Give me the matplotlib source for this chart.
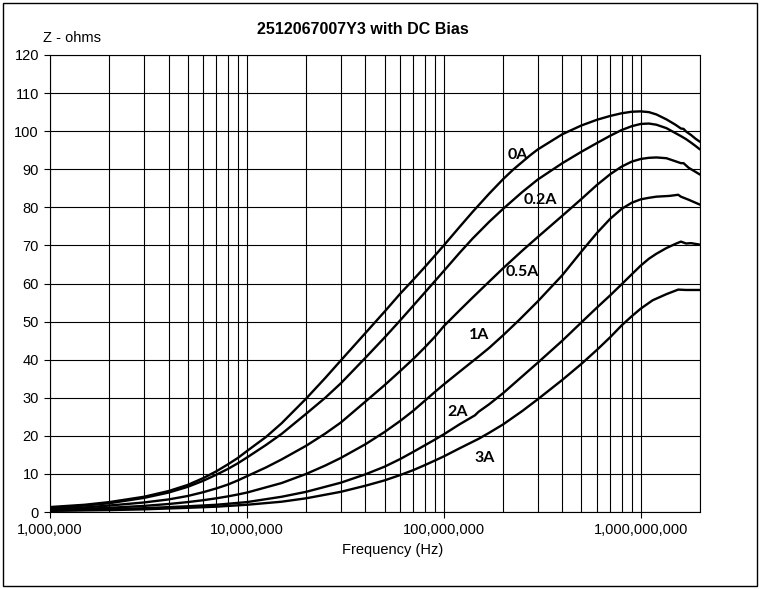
import numpy as np
import matplotlib
matplotlib.use("Agg")
import matplotlib.pyplot as plt
from matplotlib.ticker import FixedLocator, FuncFormatter, NullFormatter
from matplotlib.patches import Rectangle

# readings (frequency in Hz, impedance in ohms)
f_0A = [1e6, 1.5e6, 2e6, 3e6, 4e6, 5e6, 6e6, 7e6, 8e6, 9e6, 1e7, 1.25e7, 1.5e7, 2e7, 2.5e7, 3e7,
        4e7, 5e7, 6e7, 7e7, 8e7, 9e7, 1e8, 1.2e8, 1.4e8, 1.7e8, 2e8, 2.25e8, 2.5e8, 2.75e8, 3e8,
        4e8, 5e8, 6e8, 7e8, 8e8, 9e8, 1e9, 1.1e9, 1.2e9, 1.35e9, 1.5e9, 1.6e9, 1.65e9, 1.7e9,
        1.8e9, 1.9e9, 2e9]
z_0A = [1.3, 1.9, 2.6, 4.0, 5.5, 7.1, 8.9, 10.7, 12.5, 14.2, 16.0, 19.7, 23.3, 29.8, 35.2, 39.8,
        47.0, 52.6, 57.3, 61.0, 64.3, 67.3, 70.0, 74.8, 78.8, 83.6, 87.4, 89.9, 91.9, 93.7, 95.2,
        99.2, 101.5, 103.0, 104.0, 104.7, 105.1, 105.2, 105.0, 104.4, 103.1, 101.7, 100.7, 100.6, 99.9,
        99.0, 98.0, 97.2]

f_02A = [1e6, 1.5e6, 2e6, 3e6, 4e6, 5e6, 6e6, 7e6, 8e6, 9e6, 1e7, 1.25e7, 1.5e7, 2e7, 2.5e7, 3e7,
         4e7, 5e7, 6e7, 7e7, 8e7, 9e7, 1e8, 1.2e8, 1.4e8, 1.7e8, 2e8, 2.5e8, 3e8, 4e8, 5e8, 6e8,
         7e8, 8e8, 9e8, 1e9, 1.1e9, 1.2e9, 1.35e9, 1.5e9, 1.6e9, 1.7e9, 1.8e9, 1.9e9, 2e9]
z_02A = [1.1, 1.7, 2.3, 3.7, 5.1, 6.6, 8.2, 9.8, 11.3, 12.8, 14.3, 17.6, 20.5, 25.8, 30.0, 33.8,
         40.5, 45.8, 50.3, 54.2, 57.6, 60.6, 63.3, 68.0, 71.8, 76.2, 79.6, 84.0, 87.3, 91.6, 94.6, 96.9,
         98.8, 100.3, 101.3, 101.9, 102.0, 101.7, 100.8, 99.5, 98.7, 97.9, 97.0, 96.1, 95.2]

f_05A = [1e6, 1.5e6, 2e6, 3e6, 4e6, 5e6, 6e6, 7e6, 8e6, 9e6, 1e7, 1.25e7, 1.5e7, 2e7, 2.5e7, 3e7,
         4e7, 5e7, 6e7, 7e7, 8e7, 9e7, 1e8, 1.2e8, 1.4e8, 1.7e8, 2e8, 2.5e8, 3e8, 4e8, 5e8, 6e8,
         7e8, 8e8, 9e8, 1e9, 1.1e9, 1.2e9, 1.35e9, 1.5e9, 1.6e9, 1.65e9, 1.75e9, 1.9e9, 2e9]
z_05A = [0.8, 1.2, 1.7, 2.5, 3.3, 4.2, 5.2, 6.2, 7.2, 8.3, 9.4, 11.7, 13.8, 17.4, 20.6, 23.5,
         29.0, 33.3, 37.0, 40.2, 43.2, 46.0, 48.8, 52.9, 56.3, 60.5, 64.0, 68.6, 72.2, 77.8, 82.2, 85.9,
         88.7, 90.7, 92.0, 92.7, 93.0, 93.1, 92.9, 92.1, 91.6, 91.6, 90.4, 89.3, 88.6]

f_1A = [1e6, 1.5e6, 2e6, 3e6, 4e6, 5e6, 6e6, 7e6, 8e6, 9e6, 1e7, 1.5e7, 2e7, 2.5e7, 3e7,
        4e7, 5e7, 6e7, 7e7, 8e7, 9e7, 1e8, 1.2e8, 1.5e8, 1.7e8, 2e8, 2.4e8, 3e8, 3.5e8, 4e8, 5e8, 6e8,
        7e8, 8e8, 9e8, 1e9, 1.1e9, 1.2e9, 1.4e9, 1.55e9, 1.6e9, 1.75e9, 1.9e9, 2e9]
z_1A = [0.6, 0.85, 1.1, 1.6, 2.1, 2.6, 3.1, 3.6, 4.1, 4.6, 5.1, 7.6, 10.0, 12.2, 14.2,
        17.8, 21.0, 23.9, 26.6, 29.2, 31.5, 33.5, 36.8, 40.8, 43.1, 46.4, 50.3, 55.3, 59.0, 62.2, 68.4, 73.3,
        77.0, 79.6, 81.2, 82.1, 82.5, 82.8, 83.0, 83.3, 82.8, 82.0, 81.2, 80.7]

f_2A = [1e6, 2e6, 3e6, 5e6, 7e6, 1e7, 1.5e7, 2e7, 3e7, 4e7, 5e7, 6e7, 7e7, 8e7, 9e7, 1e8, 1.2e8,
        1.44e8, 1.5e8, 1.7e8, 2e8, 2.4e8, 3e8, 4e8, 5e8, 6e8, 7e8, 8e8, 9e8, 1e9, 1.1e9, 1.2e9,
        1.35e9, 1.5e9, 1.6e9, 1.7e9, 1.8e9, 2e9]
z_2A = [0.4, 0.7, 1.0, 1.5, 1.9, 2.6, 4.0, 5.3, 7.7, 9.9, 11.9, 13.9, 15.8, 17.5, 19.0, 20.4, 23.0,
        25.4, 26.3, 28.3, 31.2, 34.8, 39.2, 45.0, 49.8, 53.7, 56.9, 59.8, 62.4, 64.7, 66.5, 67.8,
        69.3, 70.4, 71.0, 70.5, 70.6, 70.2]

f_3A = [1e6, 2e6, 3e6, 5e6, 7e6, 1e7, 1.5e7, 2e7, 3e7, 4e7, 5e7, 6e7, 7e7, 8e7, 9e7, 1e8, 1.2e8,
        1.5e8, 1.7e8, 2e8, 2.5e8, 3e8, 4e8, 5e8, 6e8, 7e8, 8e8, 9e8, 1e9, 1.15e9, 1.35e9, 1.55e9,
        1.7e9, 2e9]
z_3A = [0.3, 0.5, 0.7, 1.1, 1.4, 1.9, 2.7, 3.6, 5.3, 6.9, 8.3, 9.7, 11.0, 12.3, 13.5, 14.6, 16.7,
        19.2, 20.8, 23.0, 26.5, 29.6, 34.7, 38.9, 42.6, 45.9, 49.0, 51.4, 53.4, 55.6, 57.2, 58.4,
        58.3, 58.3]

curve_labels = ["0A", "0.2A", "0.5A", "1A", "2A", "3A"]
label_f = [2.38e8, 3.1e8, 2.49e8, 1.52e8, 1.18e8, 1.62e8]
label_z = [93.7, 81.9, 63.0, 46.5, 26.3, 14.2]

series = [(f_0A, z_0A), (f_02A, z_02A), (f_05A, z_05A), (f_1A, z_1A), (f_2A, z_2A), (f_3A, z_3A)]

fig = plt.figure(figsize=(7.6, 5.89), dpi=100)
ax = fig.add_axes([50 / 760, 1 - 512 / 589, 650 / 760, 457 / 589])

for f, z in series:
    ax.plot(f, z, color="black", lw=1.7, solid_capstyle="round", solid_joinstyle="round")

for lab, lf, lz in zip(curve_labels, label_f, label_z):
    ax.text(lf, lz, lab, ha="center", va="center", fontsize=11.5, fontweight="bold",
            family=["Lato", "DejaVu Sans"])

ax.set_xscale("log")
ax.set_xlim(1e6, 2e9)
ax.set_ylim(0, 120)
ax.set_yticks(np.arange(0, 121, 10))
ax.xaxis.set_major_locator(FixedLocator([1e6, 1e7, 1e8, 1e9]))
ax.xaxis.set_minor_locator(FixedLocator([m * 10 ** e for e in range(6, 10) for m in range(2, 10)
                                         if m * 10 ** e <= 2e9]))
ax.xaxis.set_major_formatter(FuncFormatter(lambda v, p: f"{int(round(v)):,}"))
ax.xaxis.set_minor_formatter(NullFormatter())
ax.grid(True, which="both", color="black", lw=0.8)
ax.tick_params(which="major", length=4, width=0.8, color="black", labelsize=10.5, pad=4)
ax.tick_params(which="minor", length=0)
for lab in ax.get_xticklabels() + ax.get_yticklabels():
    lab.set_family(["Liberation Sans", "DejaVu Sans"])
for s in ax.spines.values():
    s.set_color("black")
    s.set_linewidth(0.8)

ax.set_xlabel("Frequency (Hz)", fontsize=10.5, family=["Liberation Sans", "DejaVu Sans"])
ax.xaxis.set_label_coords((393 - 50) / 650, -31 / 457)
fig.text(43 / 760, 1 - 38 / 589, "Z - ohms", fontsize=10.5, va="center", ha="left",
         family=["Liberation Sans", "DejaVu Sans"])
fig.text(363 / 760, 1 - 30 / 589, "2512067007Y3 with DC Bias", fontsize=11.5, fontweight="bold",
         ha="center", va="center", family=["Liberation Sans", "DejaVu Sans"])

fig.patches.append(Rectangle((3 / 760, 3 / 589), 754 / 760, 583 / 589, transform=fig.transFigure,
                             fill=False, edgecolor="black", lw=1))

fig.savefig("out.png", dpi=100)
